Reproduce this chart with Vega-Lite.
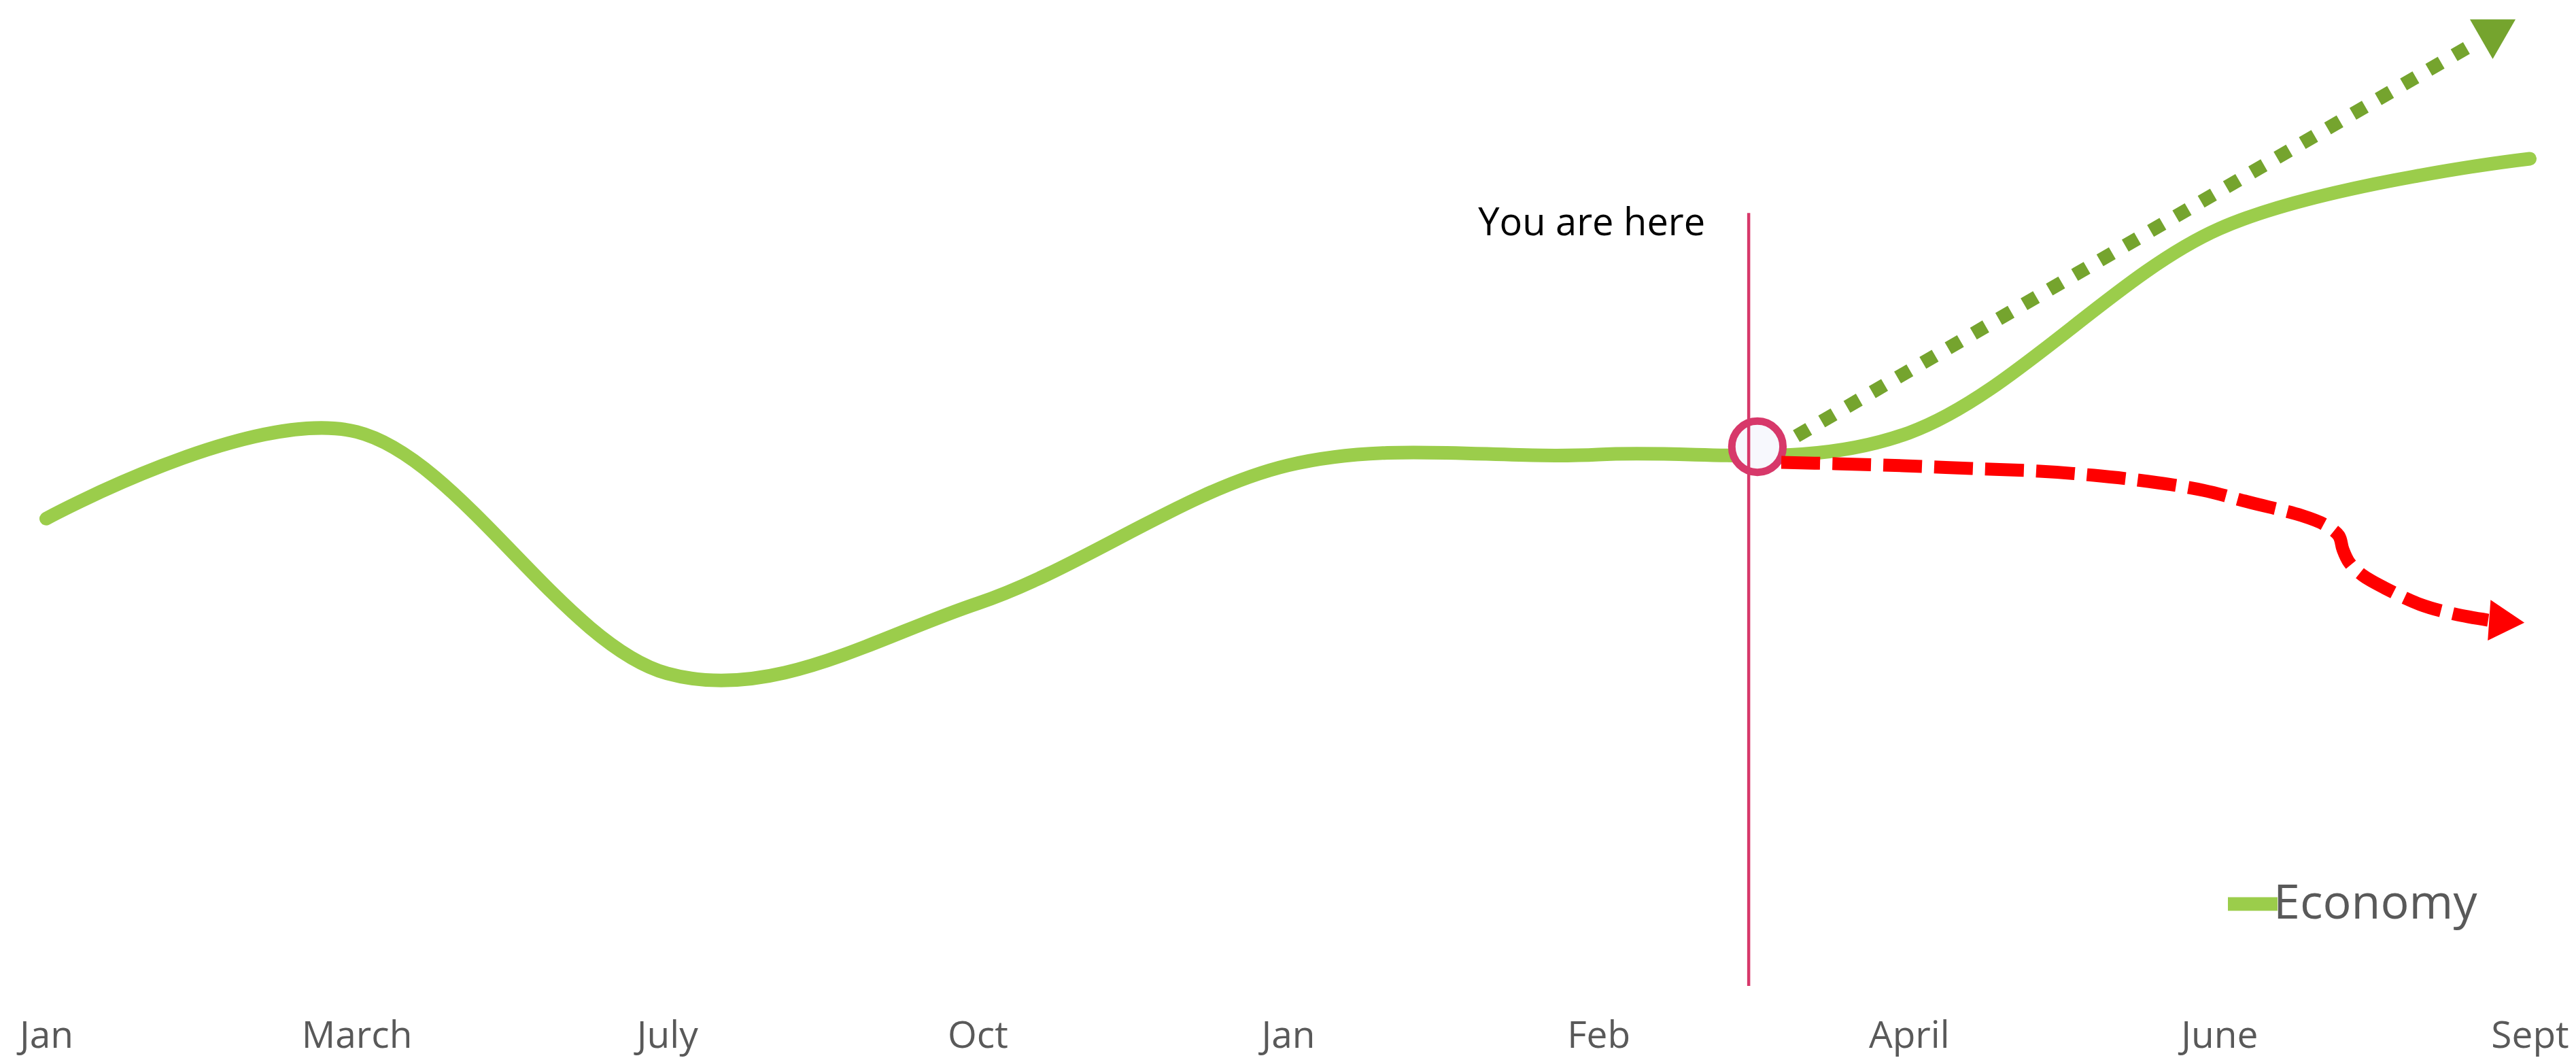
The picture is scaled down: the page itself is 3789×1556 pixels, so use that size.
{
  "$schema": "https://vega.github.io/schema/vega-lite/v6.json",
  "autosize": {"type": "none"},
  "width": 3653,
  "height": 1450,
  "padding": {"left": 68, "right": 68, "top": 0, "bottom": 106},
  "background": "white",
  "config": {"view": {"stroke": null}, "font": "Open Sans"},
  "datasets": {
    "economy": [
      {"i": 0, "month": "Jan", "value": 47.4, "series": "Economy"},
      {"i": 1, "month": "March", "value": 56.2, "series": "Economy"},
      {"i": 2, "month": "July", "value": 31.7, "series": "Economy"},
      {"i": 3, "month": "Oct", "value": 38.8, "series": "Economy"},
      {"i": 4, "month": "Jan", "value": 52.8, "series": "Economy"},
      {"i": 5, "month": "Feb", "value": 53.9, "series": "Economy"},
      {"i": 6, "month": "April", "value": 56.1, "series": "Economy"},
      {"i": 7, "month": "June", "value": 76.8, "series": "Economy"},
      {"i": 8, "month": "Sept", "value": 83.9, "series": "Economy"}
    ],
    "upside": [
      {"k": 0, "x": 5.556, "y": 54.28},
      {"k": 1, "x": 7.836, "y": 95.86}
    ],
    "upsideHead": [{"x": 7.899, "y": 97.03}],
    "downside": [
      {"k": 0, "x": 5.589, "y": 53.10},
      {"k": 1, "x": 5.764, "y": 52.97},
      {"k": 2, "x": 5.983, "y": 52.76},
      {"k": 3, "x": 6.202, "y": 52.48},
      {"k": 4, "x": 6.421, "y": 52.21},
      {"k": 5, "x": 6.596, "y": 51.79},
      {"k": 6, "x": 6.771, "y": 51.17},
      {"k": 7, "x": 6.947, "y": 50.28},
      {"k": 8, "x": 7.100, "y": 49.03},
      {"k": 9, "x": 7.264, "y": 47.72},
      {"k": 10, "x": 7.341, "y": 46.76},
      {"k": 11, "x": 7.385, "y": 45.66},
      {"k": 12, "x": 7.398, "y": 44.28},
      {"k": 13, "x": 7.418, "y": 42.97},
      {"k": 14, "x": 7.461, "y": 41.66},
      {"k": 15, "x": 7.538, "y": 40.28},
      {"k": 16, "x": 7.647, "y": 38.69},
      {"k": 17, "x": 7.757, "y": 37.72},
      {"k": 18, "x": 7.866, "y": 37.10}
    ],
    "downsideHead": [{"x": 7.926, "y": 36.97}],
    "now": [{"x": 5.484, "top": 78.4, "bottom": 0, "cx": 5.512, "cy": 54.69, "label": "You are here", "tx": 5.344, "ty": 76.14}]
  },
  "layer": [
    {
      "data": {"name": "economy"},
      "mark": {"type": "line", "interpolate": "cardinal", "strokeWidth": 20, "strokeCap": "round", "strokeJoin": "round"},
      "encoding": {
        "x": {
          "field": "i", "type": "quantitative",
          "scale": {"domain": [0, 8], "nice": false, "zero": false},
          "axis": {
            "title": null, "values": [0, 1, 2, 3, 4, 5, 6, 7, 8],
            "labelExpr": "['Jan','March','July','Oct','Jan','Feb','April','June','Sept'][datum.value]",
            "domain": false, "ticks": false, "grid": false,
            "labelFontSize": 55, "labelColor": "#595959", "labelFont": "Open Sans",
            "labelBaseline": "alphabetic", "labelPadding": 90, "labelFlush": false, "labelOverlap": false
          }
        },
        "y": {
          "field": "value", "type": "quantitative",
          "scale": {"domain": [0, 100], "nice": false, "zero": false},
          "axis": null
        },
        "color": {
          "field": "series", "type": "nominal",
          "scale": {"range": ["#9BCD4B"]},
          "legend": {
            "title": null, "orient": "none", "legendX": 3199, "legendY": 1283,
            "symbolType": "stroke", "symbolStrokeWidth": 20, "symbolSize": 5329,
            "labelFontSize": 70, "labelColor": "#595959", "labelFont": "Open Sans", "labelOffset": -16, "labelLimit": 0
          }
        }
      }
    },
    {
      "data": {"name": "upside"},
      "mark": {"type": "line", "color": "#75A42E", "strokeWidth": 20, "strokeDash": [21, 22], "strokeCap": "butt"},
      "encoding": {
        "x": {"field": "x", "type": "quantitative"},
        "y": {"field": "y", "type": "quantitative"},
        "order": {"field": "k"}
      }
    },
    {
      "data": {"name": "now"},
      "mark": {"type": "point", "shape": "circle", "filled": false, "fill": "#F7F8FD", "fillOpacity": 1, "stroke": "#D7386A", "strokeWidth": 11, "opacity": 1, "size": 5675},
      "encoding": {
        "x": {"field": "cx", "type": "quantitative"},
        "y": {"field": "cy", "type": "quantitative"}
      }
    },
    {
      "data": {"name": "downside"},
      "mark": {"type": "line", "color": "#FF0000", "strokeWidth": 19, "strokeDash": [57, 18], "strokeCap": "butt", "interpolate": "catmull-rom"},
      "encoding": {
        "x": {"field": "x", "type": "quantitative"},
        "y": {"field": "y", "type": "quantitative"},
        "order": {"field": "k"}
      }
    },
    {
      "data": {"name": "now"},
      "mark": {"type": "rule", "color": "#D7386A", "strokeWidth": 4.5},
      "encoding": {
        "x": {"field": "x", "type": "quantitative"},
        "y": {"field": "top", "type": "quantitative"},
        "y2": {"field": "bottom"}
      }
    },
    {
      "data": {"name": "upsideHead"},
      "mark": {"type": "point", "shape": "triangle-up", "filled": true, "color": "#75A42E", "opacity": 1, "size": 4500, "angle": 60},
      "encoding": {
        "x": {"field": "x", "type": "quantitative"},
        "y": {"field": "y", "type": "quantitative"}
      }
    },
    {
      "data": {"name": "downsideHead"},
      "mark": {"type": "point", "shape": "triangle-up", "filled": true, "color": "#FF0000", "opacity": 1, "size": 3600, "angle": 94},
      "encoding": {
        "x": {"field": "x", "type": "quantitative"},
        "y": {"field": "y", "type": "quantitative"}
      }
    },
    {
      "data": {"name": "now"},
      "mark": {"type": "text", "align": "right", "baseline": "alphabetic", "fontSize": 56, "font": "Open Sans", "color": "#000000"},
      "encoding": {
        "x": {"field": "tx", "type": "quantitative"},
        "y": {"field": "ty", "type": "quantitative"},
        "text": {"field": "label"}
      }
    }
  ]
}
